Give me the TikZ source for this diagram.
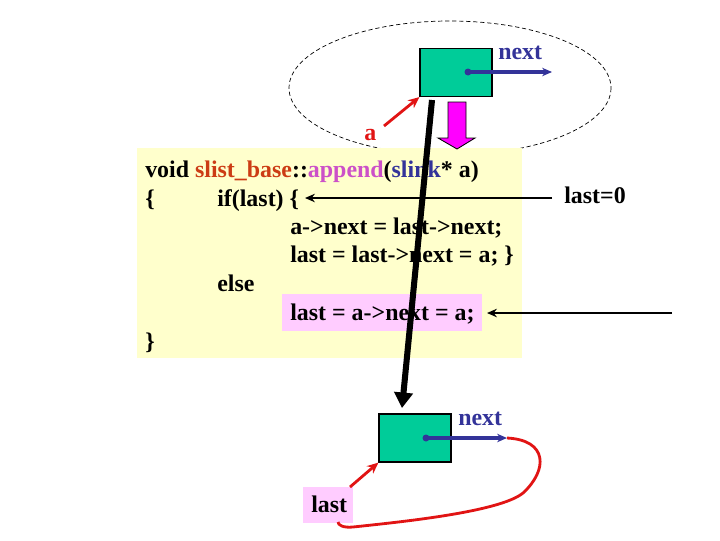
\documentclass[tikz,border=0pt]{standalone}
\usepackage{fontspec}
\setmainfont{Liberation Serif}
\usetikzlibrary{arrows.meta,positioning}

\definecolor{cellgreen}{RGB}{0,204,153}
\definecolor{nextblue}{RGB}{51,51,153}
\definecolor{ptrred}{RGB}{225,20,20}
\definecolor{codeyellow}{RGB}{255,255,204}
\definecolor{hlpink}{RGB}{255,204,255}
\definecolor{clsorange}{RGB}{204,60,20}
\definecolor{fnpink}{RGB}{204,80,200}
\definecolor{pushmag}{RGB}{255,0,255}

\tikzset{
  cell/.style={draw=black, line width=0.8pt, fill=cellgreen, minimum width=1.8cm, minimum height=1.2cm, inner sep=0pt},
  codetxt/.style={font=\fontsize{17}{20}\selectfont\bfseries, anchor=base west, inner sep=0pt},
  nextlbl/.style={codetxt, text=nextblue},
  nextptr/.style={nextblue, line width=2.4pt, -{Stealth[length=7pt,width=6pt]}},
  redptr/.style={ptrred, line width=2pt, -{Stealth[length=8pt,width=7pt]}},
  thinptr/.style={black, line width=1.4pt, -{Stealth[length=7pt,width=6pt]}},
}

\begin{document}
\begin{tikzpicture}[x=0.025cm, y=-0.025cm]
    \useasboundingbox (0,0) rectangle (720,540);

    % Ausschnitt der Liste (gestrichelt)
    \draw[dashed, line width=0.5pt, dash pattern=on 3pt off 2pt] (450,88) ellipse (161 and 67);

    % neues Element oben
    \node[cell] (topcell) at (456,72.5) {};
    \fill[nextblue] (468,72) circle (3.5) coordinate (topdot);
    \coordinate (topend) at (552,72);
    \draw[nextptr] (topdot) -- (topend);
    \node[nextlbl] (topnext) at (498,59) {next};

    % Zeiger a
    \node[codetxt, text=ptrred] (alabel) at (364,140) {a};
    \coordinate (afrom) at (384,126);
    \draw[redptr] (afrom) -- (topcell.south west);

    % Codekasten
    \node[fill=codeyellow, minimum width=9.625cm, minimum height=5.25cm, inner sep=0pt] (codebox) at (329.5,253) {};
    \node[fill=hlpink, minimum width=5cm, minimum height=0.925cm, inner sep=0pt] (elsebox) at (382,312.5) {};

    \node[codetxt] (line1) at (145,177) {void \textcolor{clsorange}{slist\_base}::\textcolor{fnpink}{append}(\textcolor{nextblue}{slink}* a)};
    \node[codetxt] (line2a) at (145,206) {\{};
    \node[codetxt] (line2b) at (217,206) {if(last) \{};
    \node[codetxt] (line3) at (290,234) {a->next = last->next;};
    \node[codetxt] (line4) at (290,262) {last = last->next = a; \}};
    \node[codetxt] (line5) at (217,291) {else};
    \node[codetxt] (line6) at (290,320) {last = a->next = a;};
    \node[codetxt] (line7) at (145,349) {\}};

    % Pfeil nach unten (magenta)
    \filldraw[fill=pushmag, draw=black, line width=0.6pt]
        (448,102) -- (466,102) -- (466,138) -- (475,138) -- (457,149) -- (438,138) -- (448,138) -- cycle;

    % Verzweigungen
    \coordinate (ifsrc) at (552,198);
    \coordinate (iftip) at (305,198);
    \draw[thinptr] (ifsrc) -- (iftip);
    \node[codetxt] (lastzero) at (564,203) {last=0};
    \coordinate (elsesrc) at (672,313);
    \coordinate (elsetip) at (487,313);
    \draw[thinptr] (elsesrc) -- (elsetip);

    % neues Element unten
    \node[cell] (botcell) at (415,438) {};
    \fill[nextblue] (426,438) circle (3.5) coordinate (botdot);
    \coordinate (botend) at (507,438);
    \draw[nextptr] (botdot) -- (botend);
    \node[nextlbl] (botnext) at (458,425) {next};

    % last
    \node[fill=hlpink, minimum width=1.25cm, minimum height=0.9cm, inner sep=0pt] (lastbox) at (328,505) {};
    \node[codetxt] (lastlbl) at (311,512) {last};
    \coordinate (lastfrom) at (350,487);
    \draw[redptr] (lastfrom) -- (botcell.south west);
    \coordinate (loopend) at (338,522);
    \draw[ptrred, line width=2pt] (botend) .. controls (548,440) and (548,470) .. (523,493)
        .. controls (500,512) and (400,522) .. (353,527) .. controls (343,528) and (338,525) .. (loopend);

    % Ablauf
    \coordinate (flowfrom) at (432,100);
    \coordinate (flowto) at (402,408);
    \draw[line width=4.3pt, -{Triangle[length=11pt,width=13pt]}] (flowfrom) -- (flowto);
\end{tikzpicture}
\end{document}
